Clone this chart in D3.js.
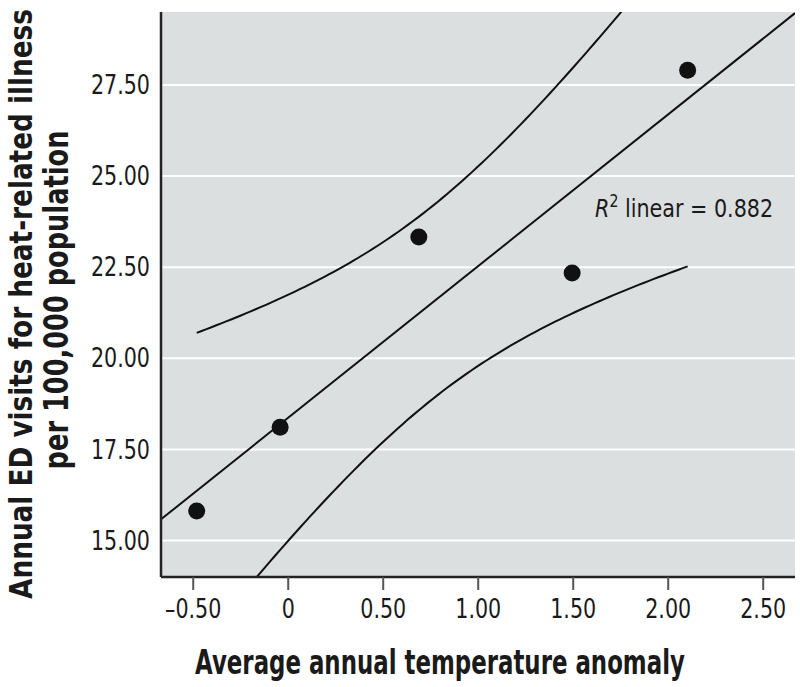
<!DOCTYPE html>
<html>
<head>
<meta charset="utf-8">
<script src="https://cdn.jsdelivr.net/npm/d3@7"></script>
<style>
  html, body { margin: 0; padding: 0; background: #fff; }
  svg { display: block; }
  text { font-family: "DejaVu Sans Condensed", "Liberation Sans Narrow", "Liberation Sans", sans-serif; fill: #1a1a1a; }
</style>
</head>
<body>
<svg id="chart" width="800" height="687"></svg>
<script>
// ---- data ----
const tempAnomaly = [-0.479, -0.04, 0.69, 1.497, 2.105];
const edVisits    = [15.81, 18.11, 23.33, 22.34, 27.90];
const xTicks = [-0.5, 0, 0.5, 1.0, 1.5, 2.0, 2.5];
const xTickLabels = ["\u20130.50", "0", "0.50", "1.00", "1.50", "2.00", "2.50"];
const yTicks = [15, 17.5, 20, 22.5, 25, 27.5];
const yTickLabels = ["15.00", "17.50", "20.00", "22.50", "25.00", "27.50"];
const r2Label = "0.882";
const xDomain = [-0.667, 2.67];
const yDomain = [14, 29.5];
const tCrit = 3.182; // t(0.975, df = 3) for 95% CI of mean

// ---- layout ----
const W = 800, H = 687;
const m = { left: 161, top: 12, right: 5, bottom: 110 };
const pw = W - m.left - m.right, ph = H - m.top - m.bottom;
const FONT = '"DejaVu Sans Condensed", "Liberation Sans Narrow", sans-serif';

const svg = d3.select("#chart");
const x = d3.scaleLinear().domain(xDomain).range([m.left, m.left + pw]);
const y = d3.scaleLinear().domain(yDomain).range([m.top + ph, m.top]);

// squeeze text horizontally (narrow font emulation)
function squeeze(sel, factor) {
  sel.each(function () {
    const L = this.getComputedTextLength();
    d3.select(this).attr("textLength", L * factor).attr("lengthAdjust", "spacingAndGlyphs");
  });
}
// title drawn at origin of a group, then scaled horizontally to a target width
function fitTitle(g, str, size, target) {
  const t = g.append("text").attr("x", 0).attr("y", 0).attr("text-anchor", "middle")
    .attr("font-size", size).attr("font-weight", "bold").text(str);
  const L = t.node().getComputedTextLength();
  t.attr("transform", `scale(${target / L},1)`);
  return t;
}

// background
svg.append("rect").attr("x", m.left).attr("y", m.top).attr("width", pw).attr("height", ph)
  .attr("fill", "#dcdfe0");

// gridlines
svg.append("g").selectAll("line").data(yTicks).join("line")
  .attr("x1", m.left).attr("x2", m.left + pw)
  .attr("y1", d => y(d)).attr("y2", d => y(d))
  .attr("stroke", "#ffffff").attr("stroke-width", 2);

// clip
svg.append("clipPath").attr("id", "clip").append("rect")
  .attr("x", m.left).attr("y", m.top).attr("width", pw).attr("height", ph);

// regression
const n = tempAnomaly.length;
const mx = d3.mean(tempAnomaly), my = d3.mean(edVisits);
let sxx = 0, sxy = 0, syy = 0;
for (let i = 0; i < n; i++) {
  const dx = tempAnomaly[i] - mx, dy = edVisits[i] - my;
  sxx += dx * dx; sxy += dx * dy; syy += dy * dy;
}
const slope = sxy / sxx, intercept = my - slope * mx;
const sse = syy - slope * sxy;
const s = Math.sqrt(sse / (n - 2));
const fit = v => intercept + slope * v;
const half = v => tCrit * s * Math.sqrt(1 / n + (v - mx) * (v - mx) / sxx);

const gClip = svg.append("g").attr("clip-path", "url(#clip)");
const line = d3.line().x(d => x(d[0])).y(d => y(d[1]));

gClip.append("path")
  .attr("d", line([[xDomain[0], fit(xDomain[0])], [xDomain[1], fit(xDomain[1])]]))
  .attr("fill", "none").attr("stroke", "#111").attr("stroke-width", 2);

const x0 = d3.min(tempAnomaly), x1 = d3.max(tempAnomaly);
const xs = d3.range(0, 101).map(i => x0 + (x1 - x0) * i / 100);
gClip.append("path")
  .attr("d", line(xs.map(v => [v, fit(v) + half(v)])))
  .attr("fill", "none").attr("stroke", "#111").attr("stroke-width", 2);
gClip.append("path")
  .attr("d", line(xs.map(v => [v, fit(v) - half(v)])))
  .attr("fill", "none").attr("stroke", "#111").attr("stroke-width", 2);

// points
svg.append("g").selectAll("circle").data(tempAnomaly.map((v, i) => [v, edVisits[i]])).join("circle")
  .attr("cx", d => x(d[0])).attr("cy", d => y(d[1])).attr("r", 8.5).attr("fill", "#111");

// axes lines
svg.append("line").attr("x1", m.left).attr("x2", m.left).attr("y1", m.top).attr("y2", m.top + ph)
  .attr("stroke", "#222").attr("stroke-width", 2.5);
svg.append("line").attr("x1", m.left).attr("x2", m.left + pw).attr("y1", m.top + ph).attr("y2", m.top + ph)
  .attr("stroke", "#222").attr("stroke-width", 2.5);

// x ticks
const xAxis = d3.axisBottom(x).tickValues(xTicks).tickSize(13).tickPadding(9)
  .tickFormat((d, i) => xTickLabels[i]);
const gx = svg.append("g").attr("transform", `translate(0,${m.top + ph})`).call(xAxis);
gx.select(".domain").remove();
gx.selectAll(".tick line").attr("stroke", "#555").attr("stroke-width", 2);
gx.selectAll(".tick text").attr("font-size", 27).attr("fill", "#1a1a1a").attr("font-family", FONT);
squeeze(gx.selectAll(".tick text"), 0.85);

// y ticks
const yAxis = d3.axisLeft(y).tickValues(yTicks).tickSize(0).tickPadding(11)
  .tickFormat((d, i) => yTickLabels[i]);
const gy = svg.append("g").attr("transform", `translate(${m.left},0)`).call(yAxis);
gy.select(".domain").remove();
gy.selectAll(".tick text").attr("font-size", 27).attr("fill", "#1a1a1a").attr("font-family", FONT);
squeeze(gy.selectAll(".tick text"), 0.85);

// R^2 annotation
const rt = svg.append("text").attr("x", 595).attr("y", 217).attr("font-size", 25);
rt.append("tspan").attr("font-style", "italic").text("R");
rt.append("tspan").attr("dy", -10).attr("font-size", 17).text("2");
rt.append("tspan").attr("dy", 10).text(" linear = " + r2Label);
squeeze(rt, 0.92);

// axis titles
fitTitle(svg.append("g").attr("transform", "translate(440,674)"),
  "Average annual temperature anomaly", 33, 490);

fitTitle(svg.append("g").attr("transform", "translate(32,304) rotate(-90)"),
  "Annual ED visits for heat-related illness", 32, 590);
fitTitle(svg.append("g").attr("transform", "translate(68,300) rotate(-90)"),
  "per 100,000 population", 33, 339);
</script>
</body>
</html>
